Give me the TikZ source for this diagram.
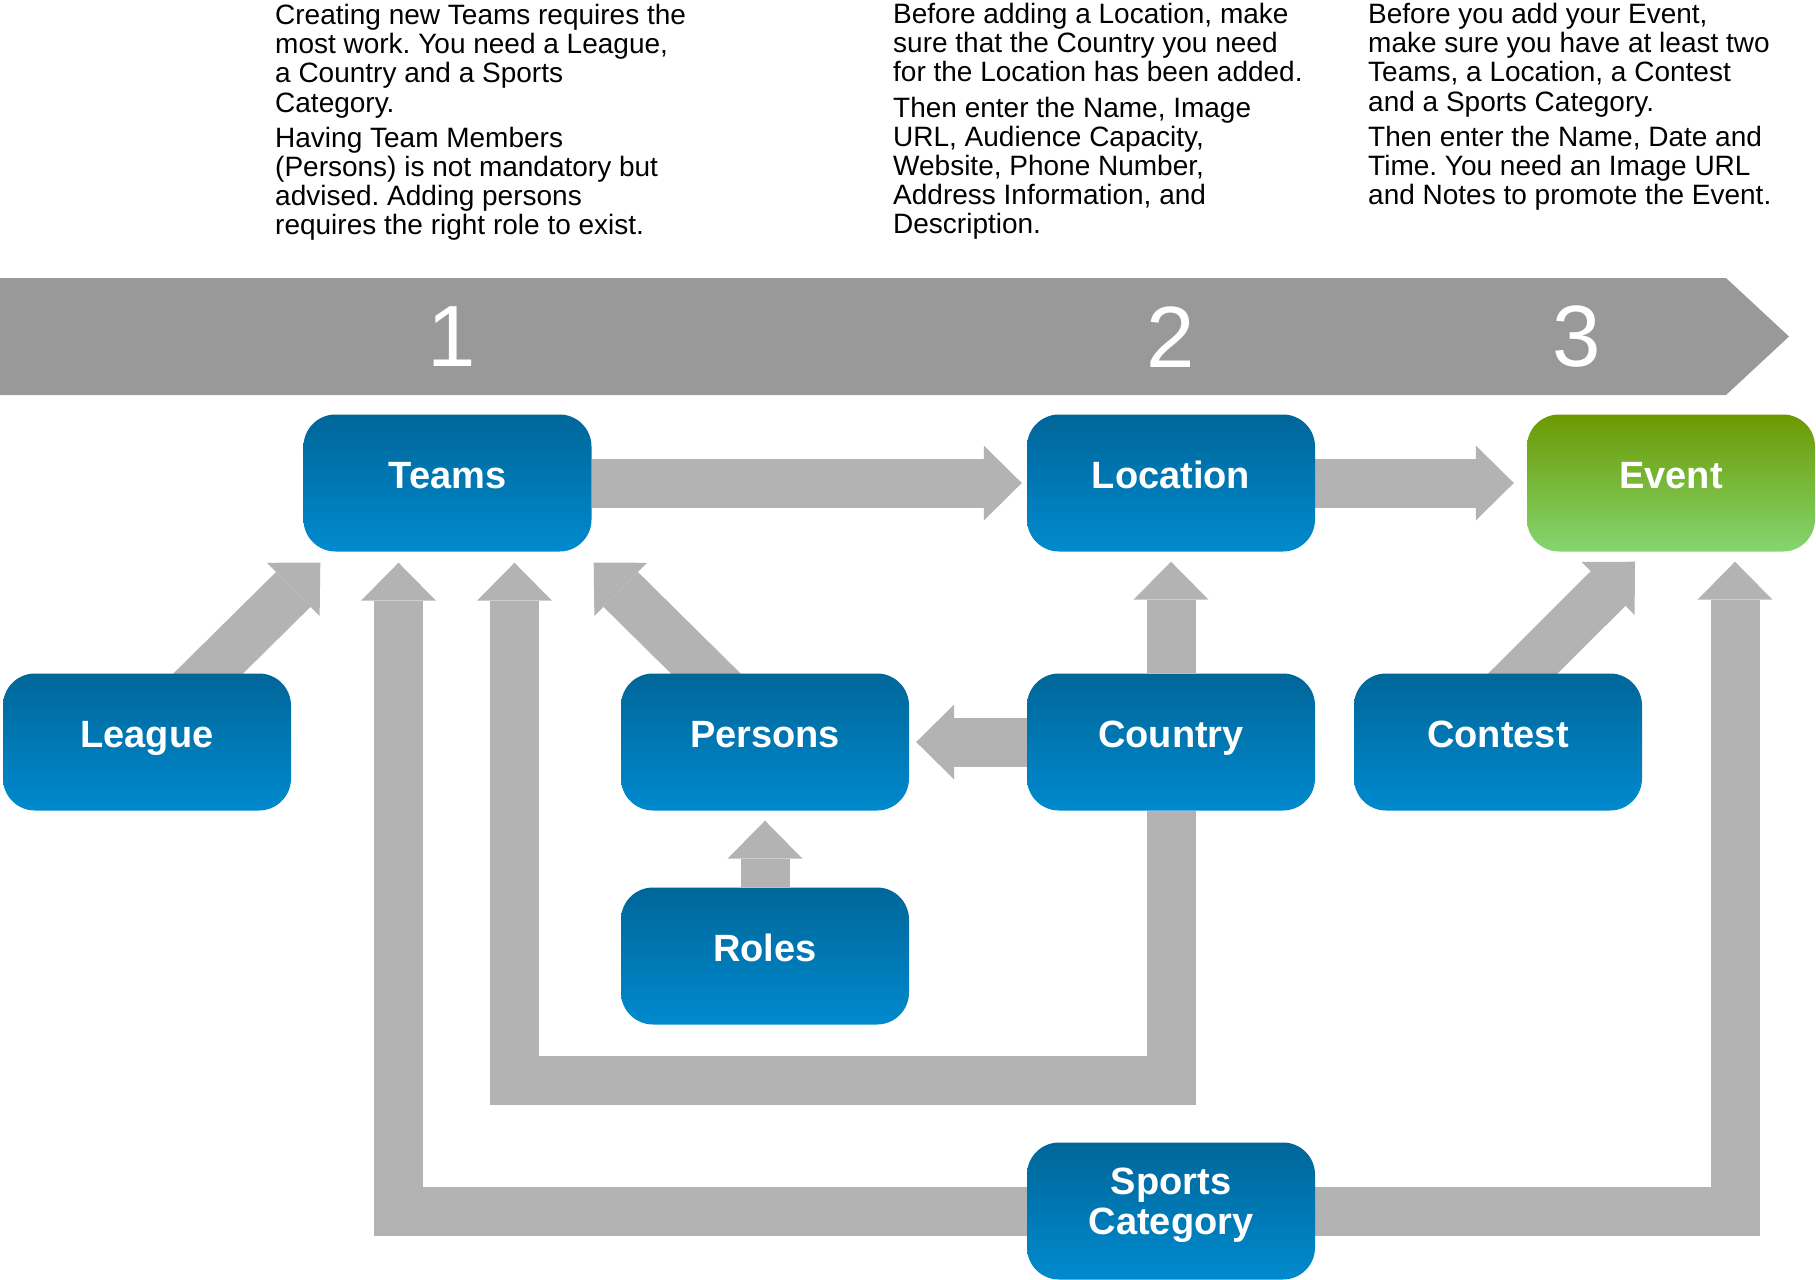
\documentclass[tikz,border=0pt]{standalone}
\usepackage{fontspec}
\setmainfont{Liberation Sans}
\usetikzlibrary{arrows.meta,backgrounds,calc}
\frenchspacing

\definecolor{bandgray}{RGB}{153,153,153}
\definecolor{arrgray}{RGB}{179,179,179}
\definecolor{bluetop}{RGB}{0,102,153}
\definecolor{bluebot}{RGB}{0,138,206}
\definecolor{greentop}{RGB}{108,153,2}
\definecolor{greenbot}{RGB}{132,214,112}

\begin{document}
\begin{tikzpicture}[x=1pt,y=-1pt, % 1 unit = 1 px, y down
 box/.style={rectangle,rounded corners=32pt,minimum width=288pt,minimum height=137pt,inner sep=0pt,
   top color=bluetop,bottom color=bluebot,text=white,font=\fontsize{38}{40}\selectfont\bfseries,
   text height=27pt,text depth=17pt},
 greenbox/.style={box,top color=greentop,bottom color=greenbot},
 note/.style={anchor=north west,inner sep=0pt,align=left,font=\fontsize{28}{29.2}\selectfont},
 conn/.style={draw=arrgray,line width=49pt,line join=miter,
   -{Triangle[width=75pt,length=38pt,line width=0pt]}}]

\useasboundingbox (0,0) rectangle (1816,1280);

\node[note] (noteteams) at (275,4) {Creating new Teams requires the\\most work. You need a League,\\a Country and a Sports\\Category.\\[6pt]Having Team Members\\(Persons) is not mandatory but\\advised. Adding persons\\requires the right role to exist.};
\node[note] (notelocation) at (893,3) {Before adding a Location, make\\sure that the Country you need\\for the Location has been added.\\[6pt]Then enter the Name, Image\\URL, Audience Capacity,\\Website, Phone Number,\\Address Information, and\\Description.};
\node[note] (noteevent) at (1368,3) {Before you add your Event,\\make sure you have at least two\\Teams, a Location, a Contest\\and a Sports Category.\\[6pt]Then enter the Name, Date and\\Time. You need an Image URL\\and Notes to promote the Event.};

\fill[bandgray] (0,278) -- (1726,278) -- (1789,336.5) -- (1726,395) -- (0,395) -- cycle;
\foreach \n/\x in {1/452,2/1171,3/1577} {
\node[text=white,font=\fontsize{87}{90}\selectfont] (step\n) at (\x,337) {\n};
}

\node[box] (teams) at (447.5,483) {Teams};
\node[box] (location) at (1171,483) {Location};
\node[greenbox] (event) at (1671,483) {Event};
\node[box] (league) at (147,742) {League};
\node[box] (persons) at (765,742) {Persons};
\node[box] (country) at (1171,742) {Country};
\node[box] (contest) at (1498,742) {Contest};
\node[box] (roles) at (765,956) {Roles};
\node[box,align=center,text height=,text depth=] (sports) at (1171,1211) {Sports\\Category\rule[-20pt]{0pt}{0pt}};

\begin{scope}[on background layer]
\draw[conn] (teams.east) -- ($(location.west)+(-5,0)$);
\draw[conn] (location.east) -- ($(event.west)+(-13,0)$);
\draw[conn] ($(league.north)+(21,40)$) -- ($(teams.south west)+(17,11)$);
\draw[conn] ($(persons.north)+(-19,40)$) -- ($(teams.south east)+(2,11)$);
\draw[conn] ($(contest.north)+(-15,40)$) -- ($(event.south)+(-36,10)$);
\draw[conn] (country.north) -- ($(location.south)+(0,10)$);
\draw[conn] (country.west) -- ($(persons.east)+(7,0)$);
\draw[conn] (roles.north) -- ($(persons.south)+(0,10)$);
\draw[conn] (country.south) -- ++(0,270) -| ($(teams.south)+(67,11)$);
\draw[conn] (sports.west) -| ($(teams.south)+(-49,11)$);
\draw[conn] (sports.east) -| ($(event.south)+(64,10)$);
\end{scope}

\end{tikzpicture}
\end{document}
